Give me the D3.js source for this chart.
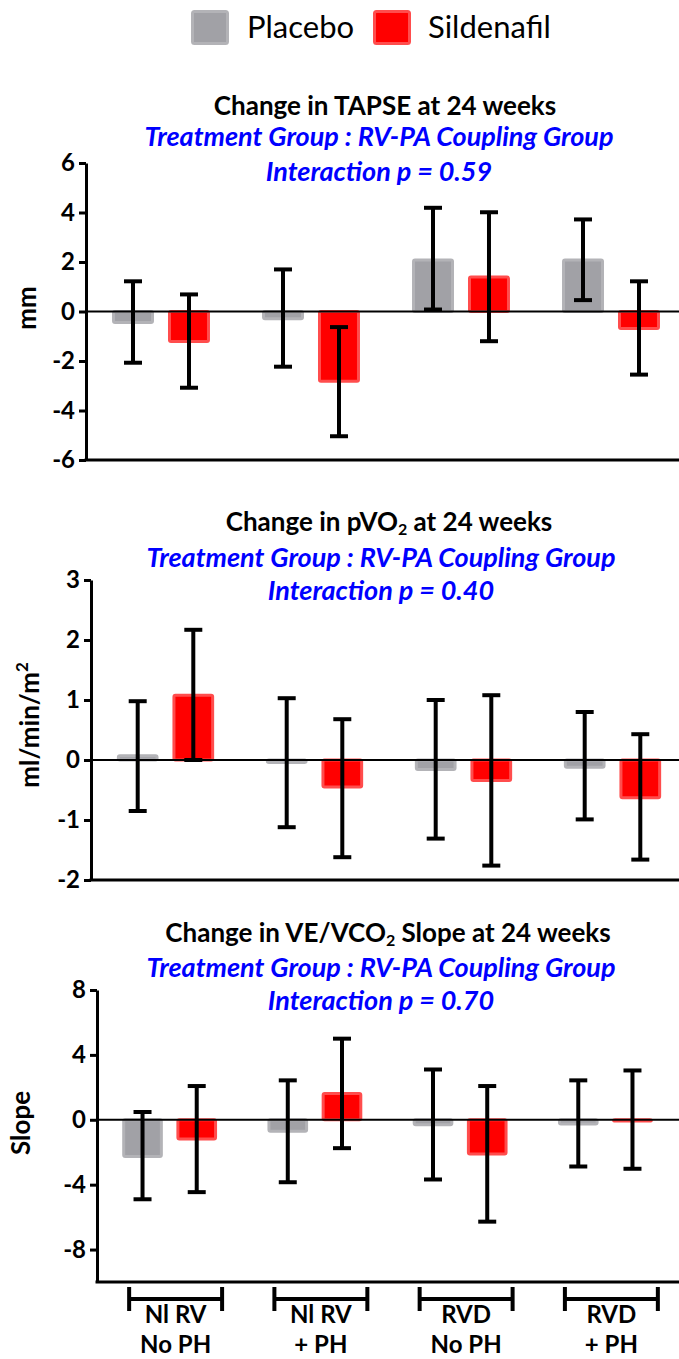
<!DOCTYPE html>
<html>
<head>
<meta charset="utf-8">
<script src="https://cdn.jsdelivr.net/npm/d3@7"></script>
<style>
  body { margin: 0; background: #ffffff; }
  svg text { font-family: Lato, "Open Sans", sans-serif; }
</style>
</head>
<body>
<svg id="drawing_region"></svg>
<script>
// groups on the x axis (two text lines under each bracket)
const groupLine1 = ["Nl RV", "Nl RV", "RVD", "RVD"];
const groupLine2 = ["No PH", "+ PH", "No PH", "+ PH"];
const seriesNames = ["Placebo", "Sildenafil"];
const seriesFill = ["#a1a1a6", "#ff0000"];
const seriesStroke = ["#b3b3b7", "#ff4d4d"];

// TAPSE (mm): mean, error bar low, error bar high
const tapsePlacebo = [-0.44, -0.29, 2.08, 2.08];
const tapsePlaceboLo = [-2.07, -2.23, 0.08, 0.46];
const tapsePlaceboHi = [1.22, 1.70, 4.19, 3.72];
const tapseSildenafil = [-1.21, -2.82, 1.39, -0.69];
const tapseSildenafilLo = [-3.08, -5.04, -1.20, -2.55];
const tapseSildenafilHi = [0.69, -0.63, 4.01, 1.22];
const tapseTicks = [-6, -4, -2, 0, 2, 4, 6];

// pVO2 (ml/min/m2)
const pvo2Placebo = [0.07, -0.04, -0.16, -0.12];
const pvo2PlaceboLo = [-0.85, -1.12, -1.31, -0.99];
const pvo2PlaceboHi = [0.98, 1.03, 1.00, 0.80];
const pvo2Sildenafil = [1.08, -0.45, -0.34, -0.63];
const pvo2SildenafilLo = [0.00, -1.62, -1.76, -1.66];
const pvo2SildenafilHi = [2.17, 0.68, 1.08, 0.43];
const pvo2Ticks = [-2, -1, 0, 1, 2, 3];

// VE/VCO2 slope
const slopePlacebo = [-2.26, -0.71, -0.30, -0.26];
const slopePlaceboLo = [-4.90, -3.85, -3.68, -2.88];
const slopePlaceboHi = [0.48, 2.43, 3.10, 2.43];
const slopeSildenafil = [-1.19, 1.62, -2.11, -0.08];
const slopeSildenafilLo = [-4.46, -1.75, -6.28, -3.02];
const slopeSildenafilHi = [2.08, 5.00, 2.08, 3.04];
const slopeTicks = [-8, -4, 0, 4, 8];

function makeRows(means, los, his) {
    const rows = [];
    groupLine1.forEach((g, i) => {
        seriesNames.forEach((s, j) => {
            rows.push({ group: i, series: s, k: j, value: means[j][i], lo: los[j][i], hi: his[j][i] });
        });
    });
    return rows;
}

const svg = d3.select('#drawing_region')
    .attr('width', 679)
    .attr('height', 1359);

class BarPanel {

    constructor( config, data ) {
        this.config = config;
        this.data = data;
        this.init();
    }

    init() {
        let self = this;
        self.g = svg.append('g');

        self.xscale = d3.scaleBand()
            .domain( d3.range(groupLine1.length) )
            .range( self.config.xrange );

        self.xinner = d3.scaleBand()
            .domain( seriesNames )
            .range( [0, self.xscale.bandwidth()] )
            .paddingInner(0.25)
            .paddingOuter(0.465);

        self.yscale = d3.scaleLinear()
            .domain( self.config.ydomain )
            .range( self.config.yrange );

        self.yaxis = d3.axisLeft( self.yscale )
            .tickValues( self.config.ticks )
            .tickFormat( d => String(d) )
            .tickSize(7)
            .tickSizeOuter(0)
            .tickPadding(4);
    }

    render() {
        let self = this;
        const x0 = self.config.xrange[0];
        const yBottom = self.config.yrange[0];
        const sw = 3;

        // titles
        const title = self.g.append('text')
            .attr('x', self.config.titleX)
            .attr('y', self.config.titleY[0])
            .attr('text-anchor', 'middle')
            .attr('font-size', '26px')
            .attr('font-weight', 'bold')
            .attr('fill', '#000');
        self.config.title.forEach(part => {
            const t = title.append('tspan').text(part.t);
            if (part.sub) t.attr('font-size', '16px').attr('dy', 4);
            else if (part.after) t.attr('dy', -4);
        });

        self.config.subtitle.forEach((s, i) => {
            self.g.append('text')
                .attr('x', self.config.subX)
                .attr('y', self.config.titleY[i + 1])
                .attr('text-anchor', 'middle')
                .attr('font-size', '27px')
                .attr('font-weight', 'bold')
                .attr('font-style', 'italic')
                .attr('fill', '#0000ff')
                .text(s);
        });

        // bars
        self.g.selectAll('rect.bar')
            .data(self.data)
            .enter()
            .append('rect')
            .attr('class', 'bar')
            .attr('x', d => self.xscale(d.group) + self.xinner(d.series) + sw / 2)
            .attr('width', self.xinner.bandwidth() - sw)
            .attr('y', d => Math.min(self.yscale(d.value), self.yscale(0)))
            .attr('height', d => Math.abs(self.yscale(d.value) - self.yscale(0)))
            .attr('rx', 1.5)
            .attr('fill', d => seriesFill[d.k])
            .attr('stroke', d => seriesStroke[d.k])
            .attr('stroke-width', sw);

        // zero line
        self.g.append('line')
            .attr('x1', x0).attr('x2', 679)
            .attr('y1', self.yscale(0)).attr('y2', self.yscale(0))
            .attr('stroke', '#000')
            .attr('stroke-width', 2);

        // error bars
        const cx = d => self.xscale(d.group) + self.xinner(d.series) + self.xinner.bandwidth() / 2;
        const cap = 9;
        const eb = self.g.selectAll('g.err')
            .data(self.data)
            .enter()
            .append('g')
            .attr('class', 'err')
            .attr('stroke', '#000')
            .attr('stroke-width', 4);
        eb.append('line')
            .attr('x1', cx).attr('x2', cx)
            .attr('y1', d => self.yscale(d.lo)).attr('y2', d => self.yscale(d.hi));
        eb.append('line')
            .attr('x1', d => cx(d) - cap).attr('x2', d => cx(d) + cap)
            .attr('y1', d => self.yscale(d.hi)).attr('y2', d => self.yscale(d.hi));
        eb.append('line')
            .attr('x1', d => cx(d) - cap).attr('x2', d => cx(d) + cap)
            .attr('y1', d => self.yscale(d.lo)).attr('y2', d => self.yscale(d.lo));

        // axes
        const ya = self.g.append('g')
            .attr('transform', `translate(${x0},0)`)
            .call(self.yaxis);
        ya.select('.domain').attr('stroke-width', 3);
        ya.selectAll('.tick line').attr('stroke-width', 3);
        ya.selectAll('.tick text')
            .attr('font-size', '24px')
            .attr('font-weight', 'bold')
            .attr('font-family', 'Lato, sans-serif')
            .attr('fill', '#000');

        self.g.append('line')
            .attr('x1', x0 - 1.5).attr('x2', 679)
            .attr('y1', yBottom).attr('y2', yBottom)
            .attr('stroke', '#000')
            .attr('stroke-width', 3);

        // y label
        const yl = self.g.append('text')
            .attr('transform', `translate(${self.config.ylabelX},${self.config.ylabelY}) rotate(-90)`)
            .attr('text-anchor', 'middle')
            .attr('font-size', '26px')
            .attr('font-weight', 'bold')
            .attr('fill', '#000');
        self.config.ylabel.forEach(part => {
            const t = yl.append('tspan').text(part.t);
            if (part.sup) t.attr('font-size', '17px').attr('dy', -11);
        });

        // group brackets under the last panel
        if (self.config.brackets) {
            const half = self.xscale.bandwidth() * 0.32;
            const by = yBottom + 17;
            groupLine1.forEach((g, i) => {
                const c = self.xscale(i) + self.xscale.bandwidth() / 2 + 6;
                self.g.append('path')
                    .attr('d', `M${c - half},${by - 12}V${by + 12}M${c - half},${by}H${c + half}M${c + half},${by - 12}V${by + 12}`)
                    .attr('fill', 'none')
                    .attr('stroke', '#000')
                    .attr('stroke-width', 4);
                self.g.append('text')
                    .attr('x', c).attr('y', by + 24)
                    .attr('text-anchor', 'middle')
                    .attr('font-size', '24px')
                    .attr('font-weight', 'bold')
                    .text(groupLine1[i]);
                self.g.append('text')
                    .attr('x', c).attr('y', by + 54)
                    .attr('text-anchor', 'middle')
                    .attr('font-size', '24px')
                    .attr('font-weight', 'bold')
                    .text(groupLine2[i]);
            });
        }
    }
}

// legend
const legendX = [191, 373];
const legendTextX = [247, 428];
seriesNames.forEach((s, i) => {
    svg.append('rect')
        .attr('x', legendX[i] + 1.5).attr('y', 11.5)
        .attr('width', 35).attr('height', 32)
        .attr('rx', 2)
        .attr('fill', seriesFill[i])
        .attr('stroke', seriesStroke[i])
        .attr('stroke-width', 3);
    svg.append('text')
        .attr('x', legendTextX[i]).attr('y', 38)
        .attr('font-size', '31px')
        .attr('fill', '#000')
        .text(s);
});

const panels = [
    {
        config: {
            xrange: [86, 686], ydomain: [-6, 6], yrange: [460, 163], ticks: tapseTicks,
            title: [{ t: 'Change in TAPSE at 24 weeks' }],
            subtitle: ['Treatment Group : RV-PA Coupling Group', 'Interaction p = 0.59'],
            titleX: 385, subX: 379, titleY: [115, 146, 181],
            ylabel: [{ t: 'mm' }], ylabelX: 36, ylabelY: 308, brackets: false
        },
        data: makeRows([tapsePlacebo, tapseSildenafil], [tapsePlaceboLo, tapseSildenafilLo], [tapsePlaceboHi, tapseSildenafilHi])
    },
    {
        config: {
            xrange: [91, 687], ydomain: [-2, 3], yrange: [880, 580], ticks: pvo2Ticks,
            title: [{ t: 'Change in pVO' }, { t: '2', sub: true }, { t: ' at 24 weeks', after: true }],
            subtitle: ['Treatment Group : RV-PA Coupling Group', 'Interaction p = 0.40'],
            titleX: 389, subX: 381, titleY: [531, 567, 600],
            ylabel: [{ t: 'ml/min/m' }, { t: '2', sup: true }], ylabelX: 39, ylabelY: 725, brackets: false
        },
        data: makeRows([pvo2Placebo, pvo2Sildenafil], [pvo2PlaceboLo, pvo2SildenafilLo], [pvo2PlaceboHi, pvo2SildenafilHi])
    },
    {
        config: {
            xrange: [97, 678], ydomain: [-10, 8], yrange: [1282, 990], ticks: slopeTicks,
            title: [{ t: 'Change in VE/VCO' }, { t: '2', sub: true }, { t: ' Slope at 24 weeks', after: true }],
            subtitle: ['Treatment Group : RV-PA Coupling Group', 'Interaction p = 0.70'],
            titleX: 388, subX: 381, titleY: [942, 977, 1010],
            ylabel: [{ t: 'Slope' }], ylabelX: 30, ylabelY: 1123, brackets: true
        },
        data: makeRows([slopePlacebo, slopeSildenafil], [slopePlaceboLo, slopeSildenafilLo], [slopePlaceboHi, slopeSildenafilHi])
    }
];

panels.forEach(p => {
    const panel = new BarPanel(p.config, p.data);
    panel.render();
});
</script>
</body>
</html>
